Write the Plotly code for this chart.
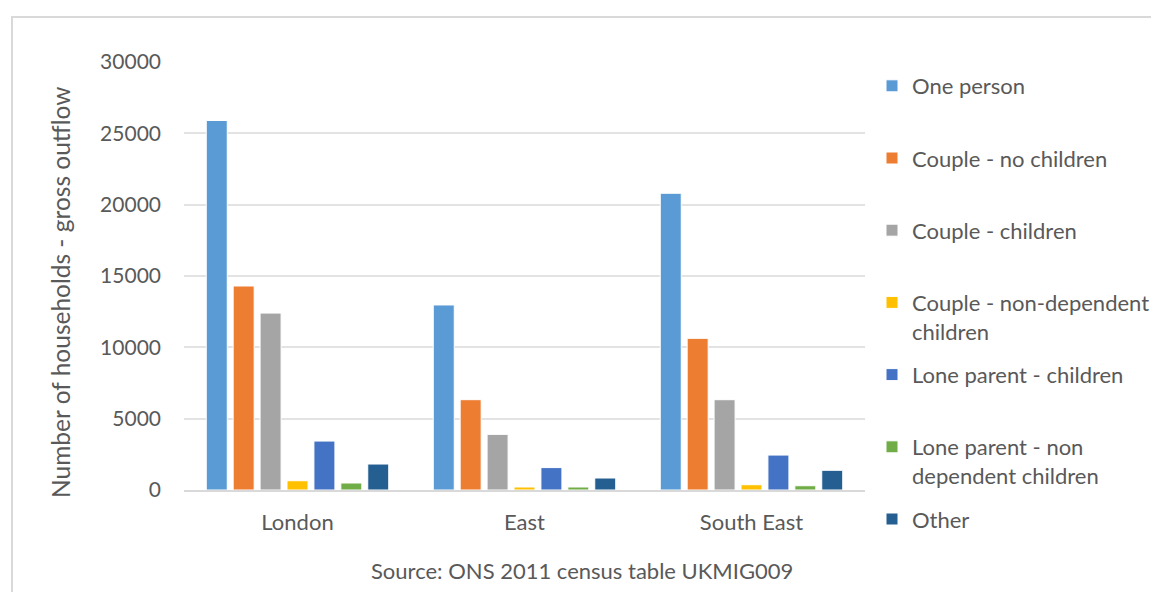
import plotly.graph_objects as go

regions = ["London", "East", "South East"]
series_names = [
    "One person",
    "Couple - no children",
    "Couple - children",
    "Couple - non-dependent<br>children",
    "Lone parent - children",
    "Lone parent - non<br>dependent children",
    "Other",
]
one_person = [25900, 12970, 20800]
couple_no_children = [14300, 6330, 10630]
couple_children = [12400, 3900, 6330]
couple_nondep_children = [650, 210, 370]
lone_parent_children = [3430, 1570, 2450]
lone_parent_nondep = [490, 210, 300]
other = [1820, 840, 1380]
colors = ["#5B9BD5", "#ED7D31", "#A5A5A5", "#FFC000", "#4472C4", "#70AD47", "#255E91"]
y_ticks = [0, 5000, 10000, 15000, 20000, 25000, 30000]
y_title = "Number of households - gross outflow"
source_text = "Source: ONS 2011 census table UKMIG009"

values = [one_person, couple_no_children, couple_children, couple_nondep_children,
          lone_parent_children, lone_parent_nondep, other]

FONT = "Lato"
GREY = "#595959"
W, H = 1151, 592
PL, PT, PR, PB = 184, 62, 865, 490   # plot area in figure pixels

fig = go.Figure()
for i, (name, vals, col) in enumerate(zip(series_names, values, colors)):
    label = name if "<br>" in name else name + "<br> "
    fig.add_trace(go.Bar(
        x=regions, y=vals, name=label, legendgroup=f"g{i}",
        marker=dict(color=col, line=dict(color="white", width=1)),
    ))

pw, ph = PR - PL, PB - PT
fig.update_layout(
    width=W, height=H,
    margin=dict(l=PL, r=W - PR, t=PT, b=H - PB, autoexpand=False),
    paper_bgcolor="white", plot_bgcolor="white",
    font=dict(family=FONT, size=22, color=GREY),
    barmode="group", bargap=0.17, bargroupgap=0.22,
    showlegend=True,
    legend=dict(
        x=872 / W, xref="container", xanchor="left",
        y=1 - 65 / H, yref="container", yanchor="top",
        maxheight=570,
        traceorder="grouped", tracegroupgap=12, valign="top",
        font=dict(family=FONT, size=22, color=GREY),
        bgcolor="rgba(0,0,0,0)",
    ),
    xaxis=dict(
        showgrid=False, showline=True, linecolor="#D9D9D9", linewidth=2,
        ticks="", ticklabelstandoff=12,
        tickfont=dict(family=FONT, size=22, color=GREY),
    ),
    yaxis=dict(
        range=[0, 30000], tickvals=y_ticks, ticktext=[str(v) for v in y_ticks],
        showgrid=True, gridcolor="#E3E3E3", gridwidth=1.5,
        zeroline=False, showline=False, ticks="", ticklabelstandoff=22,
        tickfont=dict(family=FONT, size=21, color=GREY),
    ),
    annotations=[
        dict(
            text=y_title, textangle=-90,
            xref="paper", yref="paper", x=(60 - PL) / pw, y=(PB - 293) / ph,
            xanchor="center", yanchor="middle", showarrow=False,
            font=dict(family=FONT, size=24.5, color=GREY),
        ),
        dict(
            text=source_text,
            xref="paper", yref="paper", x=(582 - PL) / pw, y=(PB - 570) / ph,
            xanchor="center", yanchor="middle", showarrow=False,
            font=dict(family=FONT, size=22, color=GREY),
        ),
    ],
    shapes=[dict(
        type="rect", xref="paper", yref="paper",
        x0=(12 - PL) / pw, x1=(W + 20 - PL) / pw,
        y0=(PB - H - 20) / ph, y1=(PB - 17) / ph,
        line=dict(color="#D9D9D9", width=2), fillcolor="rgba(0,0,0,0)", layer="below",
    )],
)

fig.write_html(
    "out.html",
    config={"displayModeBar": False},
    post_script=(
        "document.body.style.margin='0';"
        "document.body.style.overflow='hidden';"
        "document.documentElement.style.overflow='hidden';"
    ),
)
